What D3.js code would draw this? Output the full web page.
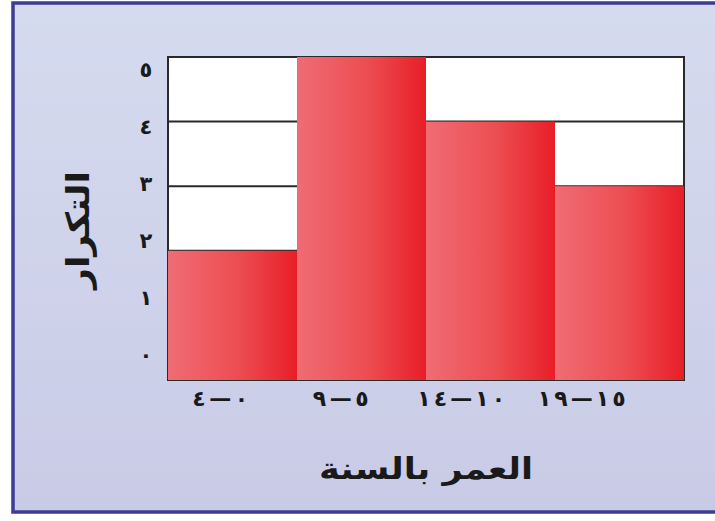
<!DOCTYPE html>
<html><head><meta charset="utf-8">
<script src="https://cdn.jsdelivr.net/npm/d3@7"></script>
<style>html,body{margin:0;padding:0;background:#fff;}svg{display:block;}</style>
</head><body>
<script>
const categories = ["٠—٤", "٥—٩", "١٠—١٤", "١٥—١٩"];
const frequencies = [2, 5, 4, 3];
const yTickLabels = ["٠", "١", "٢", "٣", "٤", "٥"];
const xTitle = "العمر بالسنة";
const yTitle = "التكرار";

const W = 715, H = 521;
const svg = d3.select("body").append("svg").attr("width", W).attr("height", H);
const defs = svg.append("defs");
const bg = defs.append("linearGradient").attr("id","bg").attr("x1",0).attr("y1",0).attr("x2",0).attr("y2",1);
bg.append("stop").attr("offset","0%").attr("stop-color","#d5dbef");
bg.append("stop").attr("offset","100%").attr("stop-color","#c9cbe6");
const bar = defs.append("linearGradient").attr("id","bar").attr("x1",0).attr("y1",0).attr("x2",1).attr("y2",0);
bar.append("stop").attr("offset","0%").attr("stop-color","#f06c74");
bar.append("stop").attr("offset","55%").attr("stop-color","#ec4d52");
bar.append("stop").attr("offset","100%").attr("stop-color","#e81e27");

// frame
svg.append("rect").attr("x",13).attr("y",3).attr("width",W+10).attr("height",509)
  .attr("fill","url(#bg)").attr("stroke","#3d3d95").attr("stroke-width",3.5);

const pLeft = 168, pRight = 684, pTop = 57, pBottom = 380;
const x = d3.scaleBand().domain(categories).range([pLeft, pRight]).padding(0);
const y = d3.scaleLinear().domain([0, 5]).range([pBottom, pTop]);
const yLab = d3.scaleLinear().domain([0, 5]).range([355, 70]);
const xLab = d3.scaleBand().domain(categories).range([160, 642]);

svg.append("rect").attr("x",pLeft).attr("y",pTop).attr("width",pRight-pLeft).attr("height",pBottom-pTop)
  .attr("fill","#fff").attr("stroke","#2a2a2a").attr("stroke-width",2);

svg.append("g").selectAll("line").data([1,2,3,4]).join("line")
  .attr("x1",pLeft).attr("x2",pRight).attr("y1",d=>y(d)).attr("y2",d=>y(d))
  .attr("stroke","#2a2a2a").attr("stroke-width",2);

svg.append("g").selectAll("rect").data(frequencies).join("rect")
  .attr("x",(d,i)=>x(categories[i])).attr("width",x.bandwidth())
  .attr("y",d=>y(d)).attr("height",d=>y(0)-y(d))
  .attr("fill","url(#bar)");

const font = "'DejaVu Sans', sans-serif";
svg.append("g").selectAll("text").data(yTickLabels).join("text")
  .attr("x",146).attr("y",(d,i)=>yLab(i)).attr("dy","0.35em")
  .attr("text-anchor","middle").attr("font-family",font).attr("font-weight","bold")
  .attr("font-size",21).attr("fill","#1a1a1a").text(d=>d);

svg.append("g").selectAll("text").data(categories).join("text")
  .attr("x",d=>xLab(d)+xLab.bandwidth()/2).attr("y",398).attr("dy","0.35em")
  .attr("text-anchor","middle").attr("direction","rtl")
  .attr("font-family",font).attr("font-weight","bold")
  .attr("font-size",22)
  .attr("textLength",d=>(d.length-1)*16+24).attr("lengthAdjust","spacing")
  .attr("fill","#1a1a1a").text(d=>d);

svg.append("text").attr("x",426).attr("y",468).attr("dy","0.35em")
  .attr("text-anchor","middle").attr("direction","rtl")
  .attr("font-family",font).attr("font-weight","bold").attr("font-size",30)
  .attr("textLength",214).attr("lengthAdjust","spacingAndGlyphs")
  .attr("fill","#1a1a1a").text(xTitle);

svg.append("text").attr("transform","translate(78,230) rotate(-90)").attr("dy","0.35em")
  .attr("text-anchor","middle").attr("direction","rtl")
  .attr("font-family",font).attr("font-weight","bold").attr("font-size",32)
  .attr("textLength",118).attr("lengthAdjust","spacingAndGlyphs")
  .attr("fill","#1a1a1a").text(yTitle);
</script>
</body></html>
